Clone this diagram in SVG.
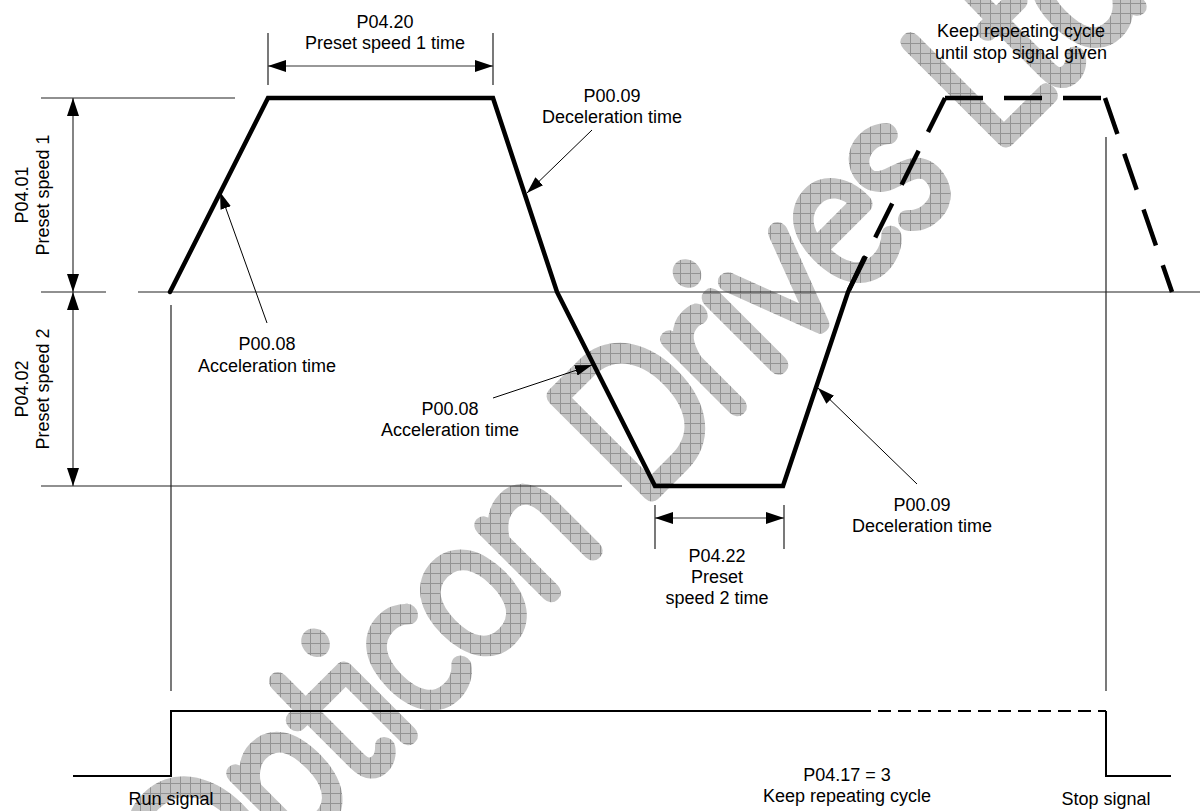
<svg xmlns="http://www.w3.org/2000/svg" width="1200" height="811" viewBox="0 0 1200 811">
<defs>
<style>
.t{font-family:"Liberation Sans",Arial,sans-serif;font-size:18px;fill:#000;text-anchor:middle}
.thin{stroke:#222;stroke-width:1.2;fill:none}
.dim{stroke:#333;stroke-width:1.2;fill:none}
.lead{stroke:#000;stroke-width:1;fill:none}
.prof{stroke:#000;stroke-width:4.5;fill:none;stroke-linejoin:miter;stroke-linecap:round}
.dash{stroke:#000;stroke-width:4.5;fill:none;stroke-dasharray:38 21}
.sig{stroke:#000;stroke-width:2;fill:none}
.sigd{stroke:#000;stroke-width:2;fill:none;stroke-dasharray:13 7}
.wm{font-family:Lato,Inter,"Liberation Sans",sans-serif;font-weight:100;font-size:192px;fill:url(#hatch);stroke:url(#hatch);stroke-width:20;stroke-linejoin:round;stroke-linecap:round}
</style>
<marker id="ah" viewBox="0 0 18 12" refX="18" refY="6" markerWidth="18" markerHeight="12" markerUnits="userSpaceOnUse" orient="auto-start-reverse"><path d="M0,0L18,6L0,12z" fill="#000"/></marker>
<marker id="lh" viewBox="0 0 17 11" refX="17" refY="5.5" markerWidth="17" markerHeight="11" markerUnits="userSpaceOnUse" orient="auto"><path d="M0,0L17,5.5L0,11z" fill="#000"/></marker>
<pattern id="hatch" width="10" height="10" patternUnits="userSpaceOnUse" patternTransform="rotate(45)">
<rect width="10" height="10" fill="#c4c4c4"/>
<path d="M0,0.5H10M0.5,0V10" stroke="#939393" stroke-width="1"/>
</pattern>
</defs>
<rect width="1200" height="811" fill="#fff"/>

<g id="watermark">
<text class="wm" x="0" y="0" transform="translate(200,943) rotate(-45)" textLength="1341" lengthAdjust="spacingAndGlyphs">Opticon Drives Ltd</text>
</g>

<g id="connectors">
<path class="thin" d="M41,98H235M41,292H106M138,292H1200M41,486H622M171,305V691M1106,137V691M268,33V85M493,33V85M655,505V549M784,505V549"/>
<line class="dim" x1="73" y1="98" x2="73" y2="292" marker-start="url(#ah)" marker-end="url(#ah)"/>
<line class="dim" x1="73" y1="292" x2="73" y2="486" marker-start="url(#ah)" marker-end="url(#ah)"/>
<line class="dim" x1="268" y1="66" x2="493" y2="66" marker-start="url(#ah)" marker-end="url(#ah)"/>
<line class="dim" x1="655" y1="518" x2="784" y2="518" marker-start="url(#ah)" marker-end="url(#ah)"/>
<path class="prof" d="M170,292L268,98H493L557,292L655,486H783L848,292L864,258"/>
<line class="dash" x1="945" y1="98" x2="848" y2="292"/>
<line class="dash" x1="945" y1="98" x2="1105" y2="98"/>
<line class="dash" x1="1105" y1="98" x2="1172" y2="292"/>
<line class="lead" x1="267" y1="323" x2="220" y2="192" marker-end="url(#lh)"/>
<line class="lead" x1="592" y1="130" x2="527" y2="193" marker-end="url(#lh)"/>
<line class="lead" x1="493" y1="398" x2="592" y2="365" marker-end="url(#lh)"/>
<line class="lead" x1="917" y1="484" x2="818" y2="388" marker-end="url(#lh)"/>
<path class="sig" d="M73,776H171V711H858"/>
<line class="sigd" x1="858" y1="711" x2="1106" y2="711"/>
<path class="sig" d="M1106,711V776H1171"/>
</g>

<g id="label-p0420"><text class="t" x="385" y="28">P04.20</text><text class="t" x="385" y="49">Preset speed 1 time</text></g>
<g id="label-p0009-top"><text class="t" x="612" y="102">P00.09</text><text class="t" x="612" y="123">Deceleration time</text></g>
<g id="label-repeat-top"><text class="t" x="1021" y="37">Keep repeating cycle</text><text class="t" x="1021" y="59">until stop signal given</text></g>
<g id="label-p0401" transform="translate(28,195) rotate(-90)"><text class="t" x="0" y="0">P04.01</text><text class="t" x="0" y="21">Preset speed 1</text></g>
<g id="label-p0402" transform="translate(28,389) rotate(-90)"><text class="t" x="0" y="0">P04.02</text><text class="t" x="0" y="21">Preset speed 2</text></g>
<g id="label-p0008-left"><text class="t" x="267" y="350">P00.08</text><text class="t" x="267" y="372">Acceleration time</text></g>
<g id="label-p0008-mid"><text class="t" x="450" y="415">P00.08</text><text class="t" x="450" y="436">Acceleration time</text></g>
<g id="label-p0009-bottom"><text class="t" x="922" y="511">P00.09</text><text class="t" x="922" y="532">Deceleration time</text></g>
<g id="label-p0422"><text class="t" x="717" y="562">P04.22</text><text class="t" x="717" y="583">Preset</text><text class="t" x="717" y="604">speed 2 time</text></g>
<g id="label-run"><text class="t" x="171" y="805">Run signal</text></g>
<g id="label-p0417"><text class="t" x="847" y="781">P04.17 = 3</text><text class="t" x="847" y="802">Keep repeating cycle</text></g>
<g id="label-stop"><text class="t" x="1106" y="805">Stop signal</text></g>
</svg>
